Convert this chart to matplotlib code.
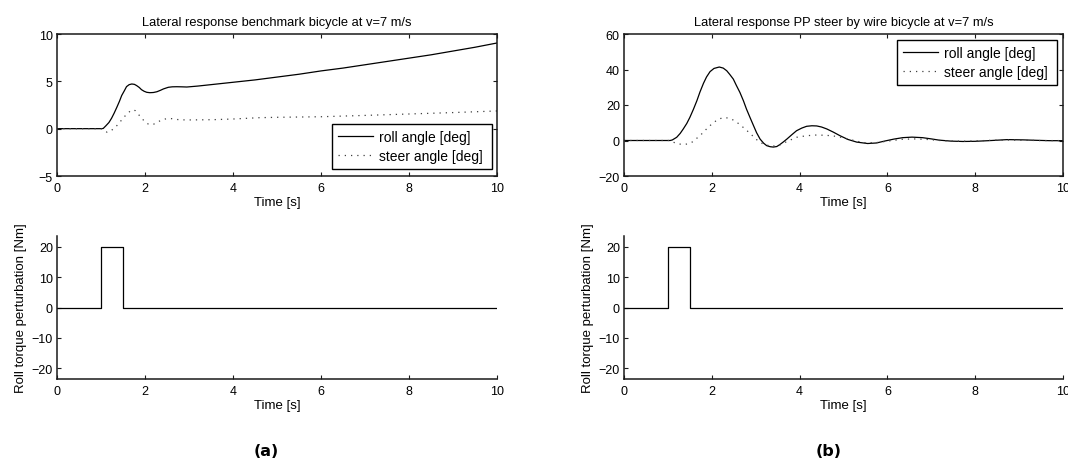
import matplotlib
matplotlib.use('Agg')
import matplotlib.pyplot as plt

plt.rcParams['font.family'] = ['Liberation Sans', 'DejaVu Sans']
plt.rcParams['font.size'] = 9
plt.rcParams['lines.scale_dashes'] = False

# benchmark bicycle, roll and steer response [deg]
t_roll_a = [0, 1.0, 1.05, 1.11, 1.18, 1.24, 1.30, 1.36, 1.42, 1.47, 1.53, 1.58, 1.64,
            1.70, 1.76, 1.81, 1.87, 1.92, 1.98, 2.04, 2.11, 2.19, 2.27, 2.35, 2.42,
            2.53, 2.62, 2.72, 2.83, 2.95, 3.2, 3.5, 4.0, 4.5, 5.0, 5.5, 6.0, 6.5,
            7.0, 7.5, 8.0, 8.5, 9.0, 9.5, 10.0]
roll_a = [0, 0, 0.02, 0.3, 0.65, 1.1, 1.65, 2.26, 2.9, 3.5, 4.0, 4.44, 4.65,
          4.72, 4.68, 4.55, 4.35, 4.12, 3.95, 3.84, 3.80, 3.82, 3.90, 4.05, 4.2,
          4.37, 4.42, 4.43, 4.42, 4.40, 4.5, 4.65, 4.9, 5.15, 5.45, 5.75, 6.1, 6.4,
          6.75, 7.1, 7.45, 7.8, 8.2, 8.6, 9.05]
t_steer_a = [0, 1.0, 1.07, 1.14, 1.20, 1.26, 1.31, 1.36, 1.41, 1.45, 1.50, 1.54, 1.59,
             1.63, 1.68, 1.73, 1.78, 1.83, 1.88, 1.92, 1.97, 2.01, 2.07, 2.14, 2.20,
             2.27, 2.33, 2.39, 2.46, 2.53, 2.60, 2.68, 2.80, 2.95, 3.2, 3.55, 4.0,
             4.6, 5.0, 6.0, 7.0, 8.0, 9.0, 10.0]
steer_a = [0, 0, -0.2, -0.38, -0.3, -0.1, 0.1, 0.32, 0.57, 0.81, 1.06, 1.31, 1.52,
           1.73, 1.9, 2.0, 1.9, 1.62, 1.35, 1.1, 0.88, 0.67, 0.5, 0.42, 0.48,
           0.67, 0.8, 0.92, 1.02, 1.08, 1.06, 0.99, 0.94, 0.92, 0.93, 0.95, 1.02,
           1.16, 1.2, 1.26, 1.4, 1.55, 1.7, 1.87]

# PP steer by wire bicycle, roll and steer response [deg]
t_roll_b = [0, 1.05, 1.1, 1.2, 1.28, 1.35, 1.43, 1.50, 1.58, 1.66, 1.73, 1.81, 1.88,
            1.96, 2.05, 2.17, 2.26, 2.34, 2.41, 2.49, 2.56, 2.64, 2.72, 2.79, 2.87,
            2.95, 3.02, 3.10, 3.18, 3.25, 3.33, 3.40, 3.48, 3.55, 3.63, 3.71, 3.82,
            3.93, 4.05, 4.16, 4.28, 4.39, 4.50, 4.62, 4.77, 4.92, 5.1, 5.3, 5.55,
            5.75, 5.94, 6.15, 6.35, 6.56, 6.8, 7.0, 7.18, 7.45, 7.72, 8.0, 8.3,
            8.73, 9.1, 9.4, 9.7, 10.0]
roll_b = [0, 0, 0.3, 1.8, 4.0, 6.5, 9.6, 13, 17.5, 22.4, 27.3, 32.2, 35.8,
          38.8, 40.6, 41.4, 40.8, 39.3, 37.2, 34.6, 31.0, 27.1, 22.4, 17.7, 13.0,
          8.4, 4.4, 0.8, -1.5, -2.9, -3.5, -3.7, -3.4, -2.3, -0.8, 0.8, 3.2,
          5.5, 7.0, 8.0, 8.3, 8.2, 7.6, 6.5, 4.7, 2.7, 0.6, -0.9, -1.7,
          -1.4, -0.3, 0.8, 1.6, 1.9, 1.6, 0.9, 0.2, -0.35, -0.55, -0.45, -0.1,
          0.5, 0.35, 0.1, -0.1, -0.1]
t_steer_b = [0, 1.05, 1.15, 1.25, 1.39, 1.50, 1.58, 1.66, 1.77, 1.88, 2.0, 2.15, 2.30,
             2.45, 2.60, 2.76, 2.91, 3.02, 3.17, 3.36, 3.55, 3.71, 3.93, 4.16, 4.39,
             4.62, 4.85, 5.05, 5.3, 5.5, 5.75, 6.05, 6.35, 6.6, 6.9, 7.2, 7.5,
             7.8, 8.1, 8.4, 8.75, 9.1, 9.5, 10.0]
steer_b = [0, 0, -1.2, -2.0, -2.2, -1.6, -0.5, 1.3, 3.7, 6.5, 9.3, 12.1, 13.0,
           12.1, 9.7, 6.5, 3.1, 0.5, -2.0, -3.3, -2.5, -0.6, 1.8, 2.7, 3.1,
           2.9, 2.3, 1.2, -0.4, -1.3, -1.2, -0.2, 0.7, 0.9, 0.6, 0.0, -0.35,
           -0.4, -0.15, 0.15, 0.3, 0.15, -0.05, -0.05]

# roll torque pulse [Nm]
t_torque = [0, 1.0, 1.5, 10.0]
torque = [0, 20, 0, 0]

titles = ['Lateral response benchmark bicycle at v=7 m/s',
          'Lateral response PP steer by wire bicycle at v=7 m/s']
captions = ['(a)', '(b)']

W, H = 1068, 464
fig = plt.figure(figsize=(W / 100, H / 100), dpi=100)


def px_axes(x0, y0, x1, y1):
    return fig.add_axes([x0 / W, 1 - y1 / H, (x1 - x0) / W, (y1 - y0) / H])


def style(ax, box):
    for s in ax.spines.values():
        s.set_linewidth(1.1)
        s.set_color('#1a1a1a')
    if not box:
        ax.spines['top'].set_visible(False)
        ax.spines['right'].set_visible(False)
    ax.tick_params(direction='in', length=3, width=0.8, color='#1a1a1a',
                   top=box, right=box, labelsize=9)
    ax.tick_params(axis='x', pad=4)
    ax.tick_params(axis='y', pad=3)
    ax.set_xlim(0, 10)
    ax.set_xticks([0, 2, 4, 6, 8, 10])
    ax.set_xlabel('Time [s]', labelpad=2, fontsize=9.5)


lefts = [(57, 497), (624, 1063)]
responses = [(t_roll_a, roll_a, t_steer_a, steer_a), (t_roll_b, roll_b, t_steer_b, steer_b)]
ylims = [(-5, 10), (-20, 60)]
yticks = [[-5, 0, 5, 10], [-20, 0, 20, 40, 60]]
# legend frames in axes fractions (x, y, width, height)
legend_box = [('lower left', (0.625, 0.049, 0.364, 0.3)),
              ('upper left', (0.622, 0.658, 0.3645, 0.3))]

for i in range(2):
    x0, x1 = lefts[i]
    tr, r, ts, s = responses[i]

    ax = px_axes(x0, 35, x1, 177)
    ax.plot(tr, r, color='black', lw=0.9, label='roll angle [deg]')
    ax.plot(ts, s, color='0.25', lw=0.9, linestyle=(0, (0.9, 3.6)),
            label='steer angle [deg]')
    ax.set_ylim(*ylims[i])
    ax.set_yticks(yticks[i])
    ax.set_title(titles[i], fontsize=9.3, pad=6.5)
    style(ax, True)
    loc, bbox = legend_box[i]
    leg = ax.legend(loc=loc, bbox_to_anchor=bbox, mode='expand', borderaxespad=0,
                    fancybox=False, framealpha=1, edgecolor='black',
                    handlelength=2.5, handletextpad=0.43, labelspacing=0.37,
                    borderpad=0.44, fontsize=10)
    leg.get_frame().set_linewidth(1.0)

    ax2 = px_axes(x0, 237, x1, 380)
    ax2.plot(t_torque, torque, color='black', lw=0.9, drawstyle='steps-post')
    ax2.set_ylim(-23.5, 23.5)
    ax2.set_yticks([-20, -10, 0, 10, 20])
    ax2.set_ylabel('Roll torque perturbation [Nm]', labelpad=3, fontsize=9.5)
    style(ax2, False)

fig.text(266 / W, 1 - 452 / H, captions[0], ha='center', va='center',
         fontsize=11.5, fontweight='bold', family='DejaVu Sans')
fig.text(829 / W, 1 - 452 / H, captions[1], ha='center', va='center',
         fontsize=11.5, fontweight='bold', family='DejaVu Sans')

fig.savefig('out.png', dpi=100)
